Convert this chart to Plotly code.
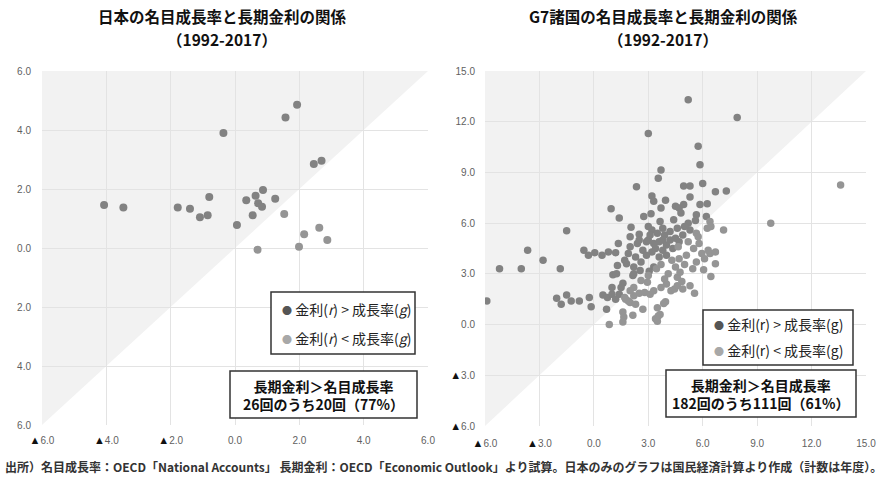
import plotly.graph_objects as go

# ---------------- Data ----------------
# Japan: nominal growth rate (x) vs long-term interest rate (y), FY1992-2017
jp_growth = [-4.07, -3.47, -1.78, -1.40, -1.09, -0.85, -0.80, -0.36, 0.06, 0.35,
             0.55, 0.64, 0.72, 0.84, 0.87, 1.25, 1.53, 1.57, 1.93, 2.45,
             2.69, 2.15, 2.62, 2.87, 1.99, 0.70]
jp_rate = [1.46, 1.37, 1.37, 1.33, 1.04, 1.11, 1.73, 3.90, 0.78, 1.62,
           1.11, 1.77, 1.52, 1.40, 1.97, 1.67, 1.15, 4.42, 4.86, 2.85,
           2.96, 0.47, 0.69, 0.27, 0.04, -0.06]

# G7: nominal growth rate (x) vs long-term interest rate (y), 1992-2017
g7_growth = [5.2, 7.9, 3.0, 5.75, 5.85, 3.7, 3.55, 2.35, 4.95, 5.3,
             6.0, 6.7, 7.3, 13.6, 9.75, 5.3, 3.2, 3.3, 3.95, 0.95,
             1.4, 3.7, 4.5, 4.7, 4.95, 5.85, 6.25, 4.8, 2.75, 3.15,
             5.65, 6.2, 5.2, 5.6, 6.4, -1.5, 2.05, 2.5, 7.15, 5.65,
             6.25, -3.65, -2.8, -0.55, 0.05, 0.45, 1.2, 1.35, -5.9, -5.2,
             -4.0, -1.85, -2.05, -1.8, -1.5, -1.25, -0.8, -0.25, -0.15, 0.7,
             0.85, 1.05, 1.3, 1.6, 1.5, 1.6, 1.65, 1.6, 2.15, 2.7,
             2.0, 2.3, 2.5, 2.8, 3.1, 2.95, 3.0, 3.4, 3.55, 3.5,
             3.65, 3.95, 3.85, 3.7, 4.0, 4.25, 4.45, 4.6, 4.85, 4.9,
             3.45, 3.7, 3.3, 3.05, 5.55, 6.05, 6.45, 6.4, 6.7, 5.0,
             0.5, 0.75, 1.0, 1.2, 1.4, 1.7, 1.9, 2.2, 1.8, 2.2,
             2.55, 1.25, 2.2, 2.15, 2.0, 2.4, 1.9, 1.7, 2.3, 2.6,
             2.7, 2.9, 3.2, 3.5, 3.9, 4.2, 4.5, 4.7, 3.0, 3.3,
             3.6, 4.0, 4.35, 4.65, 5.2, 5.5, 5.8, 5.95, 6.3, 6.1,
             5.65, 5.1, 4.7, 4.3, 4.0, 3.6, 3.2, 2.9, 3.4, 3.8,
             4.2, 3.1, 3.8, 4.9, 5.3, 5.0, 5.75, 6.45, 6.7, 2.5,
             4.5, 4.1, 3.9, 4.6, 3.3, 2.6, 2.0, 5.3, 3.5, 3.8,
             4.4, 2.2, 1.0, -0.3, 0.8, 2.0, 4.6, 3.0, 5.45, 4.75,
             3.65, 1.75]
g7_rate = [13.3, 12.25, 11.3, 10.55, 9.45, 9.15, 8.65, 8.15, 8.2, 8.2,
           8.35, 7.85, 7.9, 8.25, 6.0, 7.55, 7.6, 7.3, 7.35, 6.85,
           6.3, 6.9, 7.0, 6.9, 7.1, 7.1, 7.15, 6.6, 6.4, 6.55,
           6.5, 6.4, 6.0, 6.15, 6.1, 5.55, 5.75, 5.35, 5.6, 5.4,
           5.7, 4.4, 3.8, 4.4, 4.25, 4.1, 4.25, 4.8, 1.4, 3.3,
           3.3, 3.3, 1.55, 1.2, 1.75, 1.4, 1.4, 1.6, 1.05, 0.9,
           0.0, 2.95, 3.5, 2.45, 2.2, 0.75, 0.45, 0.15, 0.55, 0.9,
           1.3, 1.2, 1.85, 1.9, 1.8, 2.5, 2.9, 0.35, 0.5, 0.2,
           0.6, 1.35, 1.25, 2.2, 2.4, 2.0, 2.1, 2.3, 2.55, 2.1,
           3.3, 3.55, 3.4, 3.15, 1.85, 3.25, 2.85, 4.2, 4.3, 3.55,
           1.75, 1.6, 1.8, 1.5, 1.8, 1.6, 1.4, 1.7, 3.6, 3.4,
           3.2, 3.0, 2.2, 2.9, 4.6, 4.8, 4.2, 3.8, 4.0, 3.7,
           4.4, 4.9, 5.6, 5.4, 5.3, 5.5, 5.1, 4.9, 5.0, 4.8,
           4.9, 4.7, 4.5, 4.6, 4.9, 4.5, 4.8, 4.2, 4.4, 3.9,
           3.7, 4.1, 3.9, 3.8, 4.1, 4.0, 4.3, 4.1, 4.5, 4.4,
           5.0, 5.3, 5.0, 5.3, 5.6, 5.8, 5.2, 5.8, 3.6, 5.0,
           3.4, 3.0, 2.7, 2.8, 2.0, 2.6, 2.0, 2.3, 1.0, 5.7,
           6.2, 3.0, 2.2, 4.1, 4.3, 5.2, 5.7, 5.8, 3.3, 3.1,
           6.1, 1.5]

TRI = "<span style='color:#111111;font-size:11px'>▲</span>"
left_xticks = [-6, -4, -2, 0, 2, 4, 6]
left_xlabels = [TRI + "6.0", TRI + "4.0", TRI + "2.0", "0.0", "2.0", "4.0", "6.0"]
left_yticks = [-6, -4, -2, 0, 2, 4, 6]
left_ylabels = ["6.0", "4.0", "2.0", "0.0", "2.0", "4.0", "6.0"]
right_ticks = [-6, -3, 0, 3, 6, 9, 12, 15]
right_labels = [TRI + "6.0", TRI + "3.0", "0.0", "3.0", "6.0", "9.0", "12.0", "15.0"]

DARK = "#828282"
LIGHT = "#959595"
LEG_DARK = "#555555"
LEG_LIGHT = "#a8a8a8"
FONT = "Noto Sans CJK JP"


def split(xs, ys):
    ax, ay, bx, by = [], [], [], []
    for x, y in zip(xs, ys):
        if y > x:
            ax.append(x); ay.append(y)
        else:
            bx.append(x); by.append(y)
    return ax, ay, bx, by


fig = go.Figure()

jax, jay, jbx, jby = split(jp_growth, jp_rate)
gax, gay, gbx, gby = split(g7_growth, g7_rate)

fig.add_trace(go.Scatter(x=jax, y=jay, mode="markers", xaxis="x", yaxis="y",
                         marker=dict(size=8, color=DARK), showlegend=False,
                         name="金利(r) > 成長率(g)"))
fig.add_trace(go.Scatter(x=jbx, y=jby, mode="markers", xaxis="x", yaxis="y",
                         marker=dict(size=8, color=LIGHT), showlegend=False,
                         name="金利(r) < 成長率(g)"))
fig.add_trace(go.Scatter(x=gax, y=gay, mode="markers", xaxis="x2", yaxis="y2",
                         marker=dict(size=7.5, color=DARK), showlegend=False,
                         name="金利(r) > 成長率(g)"))
fig.add_trace(go.Scatter(x=gbx, y=gby, mode="markers", xaxis="x2", yaxis="y2",
                         marker=dict(size=7.5, color=LIGHT), showlegend=False,
                         name="金利(r) < 成長率(g)"))

W, H = 886, 482


def px(x):
    return x / W


def py(y):
    return 1 - y / H


tickfont = dict(family="Liberation Sans", size=10, color="#5f5f5f")
axis_common = dict(showgrid=True, gridcolor="#e3e3e3", gridwidth=1, zeroline=False,
                   showline=False, ticks="", tickfont=tickfont, automargin=False,
                   fixedrange=True)

fig.update_layout(
    width=W, height=H,
    margin=dict(l=0, r=0, t=0, b=0, pad=0, autoexpand=False),
    paper_bgcolor="white", plot_bgcolor="white",
    xaxis=dict(domain=[px(42), px(428)], range=[-6, 6], tickvals=left_xticks,
               ticktext=left_xlabels, anchor="y", ticklabelstandoff=8, **axis_common),
    yaxis=dict(domain=[py(425), py(71)], range=[-6, 6], tickvals=left_yticks,
               ticktext=left_ylabels, anchor="x", ticklabelstandoff=10, **axis_common),
    xaxis2=dict(domain=[px(485), px(866)], range=[-6, 15], tickvals=right_ticks,
                ticktext=right_labels, anchor="y2", ticklabelstandoff=10, **axis_common),
    yaxis2=dict(domain=[py(426), py(71)], range=[-6, 15], tickvals=right_ticks,
                ticktext=right_labels, anchor="x2", ticklabelstandoff=9, **axis_common),
    showlegend=False,
)

# shaded region above the 45-degree line
fig.add_shape(type="path", path="M -6 -6 L 6 6 L -6 6 Z", xref="x", yref="y",
              fillcolor="#f2f2f2", line=dict(width=0), layer="below")
fig.add_shape(type="path", path="M -6 -6 L 15 15 L -6 15 Z", xref="x2", yref="y2",
              fillcolor="#f2f2f2", line=dict(width=0), layer="below")


def text(x, y, s, font, xanchor="center", align="center"):
    fig.add_annotation(x=px(x), y=py(y), xref="paper", yref="paper", showarrow=False,
                       xanchor=xanchor, yanchor="middle", align=align, text=s, font=font)


# titles (two lines each)
title_font = dict(family=FONT, size=15.5, color="#111111")
text(222, 16, "<b>日本の名目成長率と長期金利の関係</b>", title_font)
text(222, 39, "<b>（1992-2017）</b>", title_font)
text(663, 16, "<b>G7諸国の名目成長率と長期金利の関係</b>", title_font)
text(663, 39, "<b>（1992-2017）</b>", title_font)

# legend boxes
leg_font = dict(family=FONT, size=14, color="#222222")


def legend_box(x0, x1, y0, y1, r1, r2, italic):
    fig.add_shape(type="rect", xref="paper", yref="paper",
                  x0=px(x0), x1=px(x1), y0=py(y1), y1=py(y0),
                  line=dict(color="#333333", width=1.5), fillcolor="white", layer="above")
    r = "<i>r</i>" if italic else "r"
    g = "<i>g</i>" if italic else "g"
    text(x0 + 9, r1,
         f"<span style='color:{LEG_DARK};font-size:10px'>●</span> 金利({r}) > 成長率({g})",
         leg_font, xanchor="left", align="left")
    text(x0 + 9, r2,
         f"<span style='color:{LEG_LIGHT};font-size:10px'>●</span> 金利({r}) < 成長率({g})",
         leg_font, xanchor="left", align="left")


legend_box(271, 415, 292, 354, 309, 338, True)
legend_box(703, 853, 310, 365, 324, 350, False)

# summary boxes
sum_font = dict(family=FONT, size=14, color="#111111")


def summary_box(x0, x1, y0, y1, line2):
    fig.add_shape(type="rect", xref="paper", yref="paper",
                  x0=px(x0), x1=px(x1), y0=py(y1), y1=py(y0),
                  line=dict(color="#333333", width=1.5), fillcolor="white", layer="above")
    text((x0 + x1) / 2, (y0 + y1) / 2,
         "<b>長期金利＞名目成長率</b><br><b>" + line2 + "</b>", sum_font)


summary_box(230, 417, 371, 418, "26回のうち20回（77%）")
summary_box(666, 856, 370, 417, "182回のうち111回（61%）")

# footnote
text(3, 466,
     "<b>出所）名目成長率：OECD「National Accounts」 長期金利：OECD「Economic Outlook」より試算。日本のみのグラフは国民経済計算より作成（計数は年度）。</b>",
     dict(family=FONT, size=12, color="#333333"), xanchor="left", align="left")

fig.write_html("out.html", config={"displayModeBar": False},
               post_script="document.body.style.margin='0px';")
